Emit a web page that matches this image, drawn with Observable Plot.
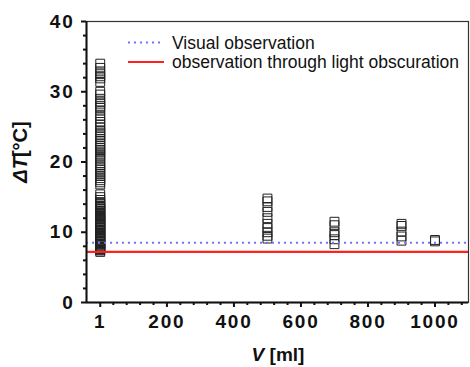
<!DOCTYPE html>
<html>
<head>
<meta charset="utf-8">
<script src="https://cdn.jsdelivr.net/npm/d3@7"></script>
<script src="https://cdn.jsdelivr.net/npm/@observablehq/plot@0.6"></script>
<style>
  html, body { margin: 0; padding: 0; background: #fff; }
  #chart { position: relative; width: 470px; height: 367px; }
</style>
</head>
<body>
<div id="chart"></div>
<script>
// ---- data ----
const volumes = [1, 500, 700, 900, 1000];
const dT_1 = [34.0, 33.4, 32.9, 32.5, 32.2, 31.9, 31.4, 30.0, 29.6, 29.0, 28.6, 28.3, 28.0, 27.7, 27.3,
  26.6, 26.2, 25.7, 25.3, 24.9, 24.5, 24.2, 23.9, 23.6, 23.3, 23.0, 22.6, 22.3, 22.0, 21.7, 21.5, 21.2,
  20.9, 20.6, 20.2, 19.8, 19.5, 19.2, 18.9, 18.6, 18.3, 18.0, 17.7, 17.4, 17.1, 16.8, 15.4, 15.0, 14.6,
  14.3, 14.1, 14.0, 13.8, 13.6, 13.5, 13.3, 13.1, 13.0, 12.8, 12.6, 12.5, 12.3, 12.2, 12.1, 11.9, 11.8,
  11.6, 11.5, 11.4, 11.2, 11.1, 11.0, 10.8, 10.7, 10.6, 10.4, 10.3, 10.2, 10.0, 9.9, 9.8, 9.6, 9.5,
  9.4, 9.2, 9.1, 9.0, 8.8, 8.7, 8.6, 8.4, 8.3, 8.2, 8.0, 7.9, 7.8, 7.6, 7.5, 7.4, 7.2];
const dT_500 = [14.8, 14.4, 13.6, 12.9, 12.0, 11.2, 10.6, 10.0, 9.5, 9.1];
const dT_700 = [11.5, 11.0, 10.0, 9.6, 9.0, 8.3];
const dT_900 = [11.2, 10.9, 10.1, 9.4, 8.8];
const dT_1000 = [8.9, 8.7];
const visualLevel = 8.5;
const lightLevel = 7.2;
const xMajorTicks = [1, 200, 400, 600, 800, 1000];
const xMinorTicks = [40, 80, 120, 160, 240, 280, 320, 360, 440, 480, 520, 560, 640, 680, 720, 760, 840, 880, 920, 960, 1040, 1080];
const yMajorTicks = [0, 10, 20, 30, 40];
const yMinorTicks = [2, 4, 6, 8, 12, 14, 16, 18, 22, 24, 26, 28, 32, 34, 36, 38];
const xDomain = [-40, 1100];
const yDomain = [0, 40];
const legendLabels = ["Visual observation", "observation through light obscuration"];

const series = [dT_1, dT_500, dT_700, dT_900, dT_1000];
const points = volumes.flatMap((v, i) => series[i].map(d => ({v, dt: d})));

const FONT = "'Liberation Sans', Arial, Helvetica, sans-serif";

const svg = Plot.plot({
  width: 470,
  height: 367,
  marginLeft: 86,
  marginRight: 2,
  marginTop: 21,
  marginBottom: 65,
  x: {domain: xDomain},
  y: {domain: yDomain},
  style: {fontFamily: FONT, background: "white", color: "#111"},
  marks: [
    Plot.frame({stroke: "#333", strokeWidth: 1.2}),
    Plot.dot(points, {x: "v", y: "dt", symbol: "square", r: 5, stroke: "#222", fill: "none", strokeWidth: 1}),
    Plot.ruleY([visualLevel], {stroke: "#7474ff", strokeWidth: 2, strokeDasharray: "2,4"}),
    Plot.ruleY([lightLevel], {stroke: "#ff2020", strokeWidth: 2.2}),
    Plot.ruleY([yDomain[0]], {stroke: "#111", strokeWidth: 2}),
    Plot.ruleX([xDomain[0]], {stroke: "#111", strokeWidth: 2}),
    Plot.axisX({ticks: xMajorTicks, tickSize: 5, tickPadding: 7, strokeWidth: 2, fontSize: 19, fontWeight: "bold", tickFormat: d => String(d), label: null}),
    Plot.axisX({ticks: xMinorTicks, tickSize: 3, strokeWidth: 2, tickFormat: () => "", label: null}),
    Plot.axisY({ticks: yMajorTicks, tickSize: 5, tickPadding: 7, strokeWidth: 2, fontSize: 19, fontWeight: "bold", tickFormat: d => String(d), label: null}),
    Plot.axisY({ticks: yMinorTicks, tickSize: 3, strokeWidth: 2, tickFormat: () => "", label: null})
  ]
});
document.getElementById("chart").appendChild(svg);

// widen tick label digits slightly, as in the reference
d3.select(svg).selectAll("g[aria-label='x-axis tick label'] text, g[aria-label='y-axis tick label'] text")
  .attr("letter-spacing", "1.8px");

// ---- titles and legend (text) ----
const s = d3.select(svg);
const yt = s.append("text")
  .attr("transform", "translate(27,152) rotate(-90)")
  .attr("text-anchor", "middle")
  .attr("font-family", FONT).attr("font-size", 20).attr("font-weight", "bold").attr("fill", "#111");
yt.append("tspan").attr("font-style", "italic").text("ΔT");
yt.append("tspan").text("[°C]");

const xt = s.append("text")
  .attr("x", 278).attr("y", 361)
  .attr("text-anchor", "middle")
  .attr("font-family", FONT).attr("font-size", 19).attr("font-weight", "bold").attr("fill", "#111");
xt.append("tspan").attr("font-style", "italic").text("V");
xt.append("tspan").text(" [ml]");

const lg = s.append("g").attr("font-family", FONT).attr("font-size", 17.5).attr("fill", "#111")
  .attr("text-anchor", "start");
const legendStyles = [
  {stroke: "#7474ff", dash: "2,4", w: 2},
  {stroke: "#ff2020", dash: null, w: 2.2}
];
legendLabels.forEach((lab, i) => {
  const y = 42.5 + i * 19.5;
  lg.append("line").attr("x1", 128).attr("x2", 164).attr("y1", y).attr("y2", y)
    .attr("stroke", legendStyles[i].stroke).attr("stroke-width", legendStyles[i].w)
    .attr("stroke-dasharray", legendStyles[i].dash);
  lg.append("text").attr("x", 172).attr("y", y).attr("dy", "0.35em").attr("text-anchor", "start").text(lab);
});
</script>
</body>
</html>
